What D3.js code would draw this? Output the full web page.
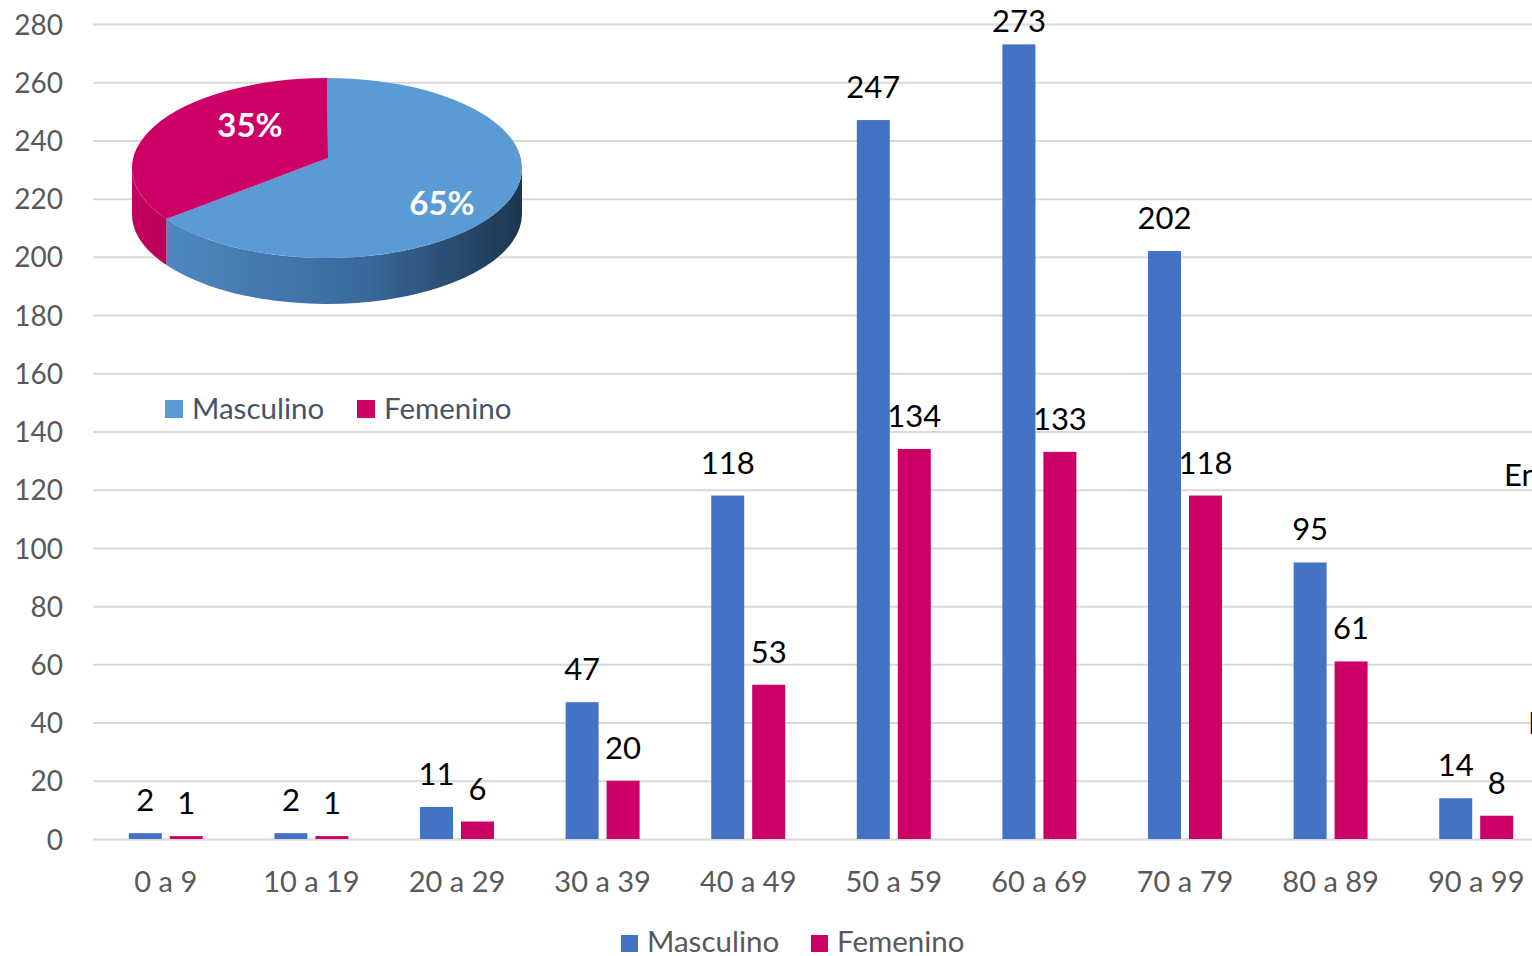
<!DOCTYPE html>
<html>
<head>
<meta charset="utf-8">
<script src="https://cdn.jsdelivr.net/npm/d3@7"></script>
<style>
  html, body { margin: 0; padding: 0; background: #fff; overflow: hidden; }
  svg { display: block; font-family: Lato, "Open Sans", sans-serif; }
</style>
</head>
<body>
<svg id="root" width="1532" height="956"></svg>
<script>
(function () {
  // data
  let categories = ["0 a 9", "10 a 19", "20 a 29", "30 a 39", "40 a 49",
                    "50 a 59", "60 a 69", "70 a 79", "80 a 89", "90 a 99"];
  let masculino = [2, 2, 11, 47, 118, 247, 273, 202, 95, 14];
  let femenino  = [1, 1, 6, 20, 53, 134, 133, 118, 61, 8];
  let seriesNames = ["Masculino", "Femenino"];
  let yTicks = d3.range(0, 281, 20);

  let barColors = { Masculino: "#4472C4", Femenino: "#CC0066" };
  let pieColors = { Masculino: "#5B9BD5", Femenino: "#CC0066" };

  let svg = d3.select("#root");

  let x0 = d3.scaleBand()
    .domain(categories)
    .range([93, 1549])
    .paddingInner(0.492)
    .paddingOuter(0.246);

  let x1 = d3.scaleBand()
    .domain(seriesNames)
    .range([0, x0.bandwidth()])
    .paddingInner(0.195);

  let y = d3.scaleLinear()
    .domain([0, 280])
    .range([839, 24]);

  // gridlines + y labels
  let yAxis = d3.axisLeft(y)
    .tickValues(yTicks)
    .tickSize(-1532)
    .tickPadding(30);

  let yG = svg.append("g")
    .attr("transform", "translate(93,0)")
    .call(yAxis);
  yG.select(".domain").remove();
  yG.selectAll(".tick line").attr("stroke", "#d9d9d9").attr("stroke-width", 2);
  yG.selectAll(".tick text")
    .attr("fill", "#595959")
    .attr("dy", "0.36em")
    .style("font-size", "28px")
    .style("font-family", "Lato, sans-serif");

  // x labels
  let xAxis = d3.axisBottom(x0).tickSize(0).tickPadding(32);
  let xG = svg.append("g")
    .attr("transform", "translate(0,839)")
    .call(xAxis);
  xG.select(".domain").remove();
  xG.selectAll(".tick text")
    .attr("fill", "#595959")
    .style("font-size", "29px")
    .style("font-family", "Lato, sans-serif");

  // bars
  let rows = categories.map((c, i) => ({
    cat: c,
    values: [
      { key: "Masculino", value: masculino[i] },
      { key: "Femenino", value: femenino[i] }
    ]
  }));

  let groups = svg.append("g").selectAll("g")
    .data(rows)
    .enter().append("g")
    .attr("transform", d => `translate(${x0(d.cat)},0)`);

  groups.selectAll("rect")
    .data(d => d.values)
    .enter().append("rect")
    .attr("x", d => x1(d.key))
    .attr("width", x1.bandwidth())
    .attr("y", d => y(d.value))
    .attr("height", d => y(0) - y(d.value))
    .attr("fill", d => barColors[d.key]);

  groups.selectAll("text")
    .data(d => d.values)
    .enter().append("text")
    .attr("x", d => x1(d.key) + x1.bandwidth() / 2)
    .attr("y", d => Math.max(y(d.value) - 22, 32))
    .attr("text-anchor", "middle")
    .attr("fill", "#000")
    .style("font-size", "31px")
    .text(d => d.value);

  // clipped text on the right edge
  svg.append("text").attr("x", 1504).attr("y", 486)
    .style("font-size", "31px").attr("fill", "#000").text("En");
  svg.append("text").attr("x", 1528).attr("y", 734)
    .style("font-size", "31px").attr("fill", "#000").text("E");

  // bottom legend
  let legend = svg.append("g");
  let legendItems = [
    { key: "Masculino", x: 621 },
    { key: "Femenino", x: 811 }
  ];
  legend.selectAll("rect")
    .data(legendItems)
    .enter().append("rect")
    .attr("x", d => d.x).attr("y", 935)
    .attr("width", 17).attr("height", 17)
    .attr("fill", d => barColors[d.key]);
  legend.selectAll("text")
    .data(legendItems)
    .enter().append("text")
    .attr("x", d => d.x + 26).attr("y", 952)
    .attr("fill", "#595959")
    .style("font-size", "29.5px")
    .text(d => d.key);

  // 3D pie
  let totals = [d3.sum(masculino), d3.sum(femenino)];
  let grand = d3.sum(totals);
  let pieData = d3.pie().sort(null)(totals)
    .map((p, i) => Object.assign(p, { key: seriesNames[i] }));

  let cx = 327, cy = 168, rx = 195, ry = 90, depth = 46;
  let vx = 328, vy = 158; // apex of the slices, seen in perspective
  let pt = (a, dy) => [cx + rx * Math.sin(a), cy - ry * Math.cos(a) + (dy || 0)];

  let defs = svg.append("defs");
  let gb = defs.append("linearGradient").attr("id", "sideBlue")
    .attr("x1", "0").attr("x2", "1").attr("y1", "0").attr("y2", "0");
  gb.append("stop").attr("offset", "0").attr("stop-color", "#4f88c2");
  gb.append("stop").attr("offset", "0.55").attr("stop-color", "#3a6a9c");
  gb.append("stop").attr("offset", "1").attr("stop-color", "#1c3650");
  let gp = defs.append("linearGradient").attr("id", "sidePink")
    .attr("x1", "0").attr("x2", "1").attr("y1", "0").attr("y2", "0");
  gp.append("stop").attr("offset", "0").attr("stop-color", "#c4005e");
  gp.append("stop").attr("offset", "1").attr("stop-color", "#b80058");

  let pieG = svg.append("g");

  // side walls (front half only: PI/2 .. 3PI/2)
  pieData.forEach(p => {
    let a0 = Math.max(p.startAngle, Math.PI / 2);
    let a1 = Math.min(p.endAngle, 3 * Math.PI / 2);
    if (a1 <= a0) return;
    let s = pt(a0), e = pt(a1), sb = pt(a0, depth), eb = pt(a1, depth);
    let large = (a1 - a0) > Math.PI ? 1 : 0;
    let path = `M${s}A${rx},${ry} 0 ${large} 1 ${e}L${eb}A${rx},${ry} 0 ${large} 0 ${sb}Z`;
    pieG.append("path")
      .attr("d", path)
      .attr("fill", p.key === "Masculino" ? "url(#sideBlue)" : "url(#sidePink)");
  });

  // top faces
  pieData.forEach(p => {
    let s = pt(p.startAngle), e = pt(p.endAngle);
    let large = (p.endAngle - p.startAngle) > Math.PI ? 1 : 0;
    pieG.append("path")
      .attr("d", `M${vx},${vy}L${s}A${rx},${ry} 0 ${large} 1 ${e}Z`)
      .attr("fill", pieColors[p.key]);
  });

  // pie labels
  let pieLabelPos = { Masculino: [442, 215], Femenino: [250, 137] };
  pieG.selectAll("text.pl")
    .data(pieData)
    .enter().append("text")
    .attr("class", "pl")
    .attr("x", d => pieLabelPos[d.key][0])
    .attr("y", d => pieLabelPos[d.key][1])
    .attr("text-anchor", "middle")
    .attr("fill", "#fff")
    .style("font-size", "33px")
    .style("font-weight", "bold")
    .text(d => Math.round(d.value / grand * 100) + "%");

  // pie legend
  let pl = svg.append("g");
  let plItems = [
    { key: "Masculino", x: 165 },
    { key: "Femenino", x: 357 }
  ];
  pl.selectAll("rect")
    .data(plItems)
    .enter().append("rect")
    .attr("x", d => d.x).attr("y", 400)
    .attr("width", 18).attr("height", 18)
    .attr("fill", d => pieColors[d.key]);
  pl.selectAll("text")
    .data(plItems)
    .enter().append("text")
    .attr("x", d => d.x + 27).attr("y", 419)
    .attr("fill", "#44546A")
    .style("font-size", "29.5px")
    .text(d => d.key);
})();
</script>
</body>
</html>
